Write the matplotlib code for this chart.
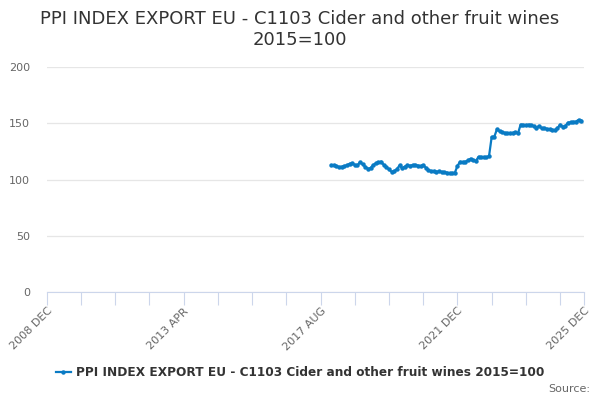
import matplotlib
matplotlib.use("Agg")
import matplotlib.pyplot as plt
import numpy as np
import pandas as pd

# monthly categories on the axis, 2008 DEC .. 2025 DEC
months = [d.strftime("%Y %b").upper() for d in pd.date_range("2008-12-01", "2025-12-01", freq="MS")]
start_month = "2017 DEC"

# index values, 2017 DEC onwards
values = [
    112.5, 112.6, 112.2, 111.0, 111.4, 112.0, 112.6, 114.0, 114.3, 113.0,
    112.5, 115.5, 113.5, 111.3, 109.5, 110.2, 112.8, 114.5, 115.2, 116.0,
    113.0, 111.0, 109.0, 106.8, 107.5, 109.2, 112.5, 110.0, 111.5, 112.5,
    112.3, 112.8, 113.0, 112.4, 112.0, 112.8, 110.5, 108.3, 107.4, 107.4,
    107.0, 107.2, 106.8, 106.5, 106.2, 105.4, 105.8, 106.0, 112.0, 115.8,
    115.5, 115.8, 117.0, 118.5, 117.2, 116.4, 120.2, 120.0, 119.8, 119.6,
    120.8, 137.8, 138.0, 144.6, 143.0, 142.0, 141.5, 141.0, 141.2, 141.5,
    142.0, 141.0, 148.8, 148.5, 148.2, 148.8, 148.2, 147.5, 146.0, 147.6,
    145.5, 145.8, 145.0, 144.6, 144.2, 144.0, 145.5, 148.8, 146.7, 147.5,
    150.6, 150.8, 151.2, 151.5, 153.0, 152.4,
]

title = "PPI INDEX EXPORT EU - C1103 Cider and other fruit wines\n2015=100"
series_name = "PPI INDEX EXPORT EU - C1103 Cider and other fruit wines 2015=100"
yticks = [0, 50, 100, 150, 200]

i0 = months.index(start_month)
xs = np.arange(i0, i0 + len(values))

fig = plt.figure(figsize=(6, 4), dpi=100)
ax = fig.add_axes([0.078, 0.27, 0.895, 0.5625])

line_col = "#0a7bc4"
ax.plot(xs, values, color=line_col, lw=1.6, marker="o", ms=2.2, mec=line_col, mfc=line_col,
        label=series_name)

ax.set_xlim(0, len(months) - 1)
ax.set_ylim(0, 200)
ax.set_yticks(yticks)
ax.grid(axis="y", color="#e6e6e6", lw=0.9)
ax.set_axisbelow(True)

tick_pos = list(range(0, len(months) - 1, 13)) + [len(months) - 1]
ax.set_xticks(tick_pos)
ax.set_xticklabels([months[p] if p % 52 == 0 or p == len(months) - 1 else "" for p in tick_pos],
                   rotation=45, ha="right", rotation_mode="anchor")

for s in ["top", "right", "left"]:
    ax.spines[s].set_visible(False)
ax.spines["bottom"].set_color("#ccd6eb")
ax.tick_params(axis="x", length=9, color="#ccd6eb", labelsize=8, labelcolor="#666666", pad=1)
ax.tick_params(axis="y", length=0, labelsize=8, labelcolor="#666666", pad=12)

fig.text(0.5, 0.975, title, ha="center", va="top", fontsize=13, color="#333333", linespacing=1.2)

leg = fig.legend(loc="center", bbox_to_anchor=(0.5, 0.068), frameon=False, fontsize=8.7,
                 handlelength=1.3, handletextpad=0.4)
for t in leg.get_texts():
    t.set_fontweight("bold")
    t.set_color("#333333")

fig.text(0.983, 0.028, "Source:", ha="right", va="center", fontsize=8, color="#666666")

fig.savefig("out.png", dpi=100)
